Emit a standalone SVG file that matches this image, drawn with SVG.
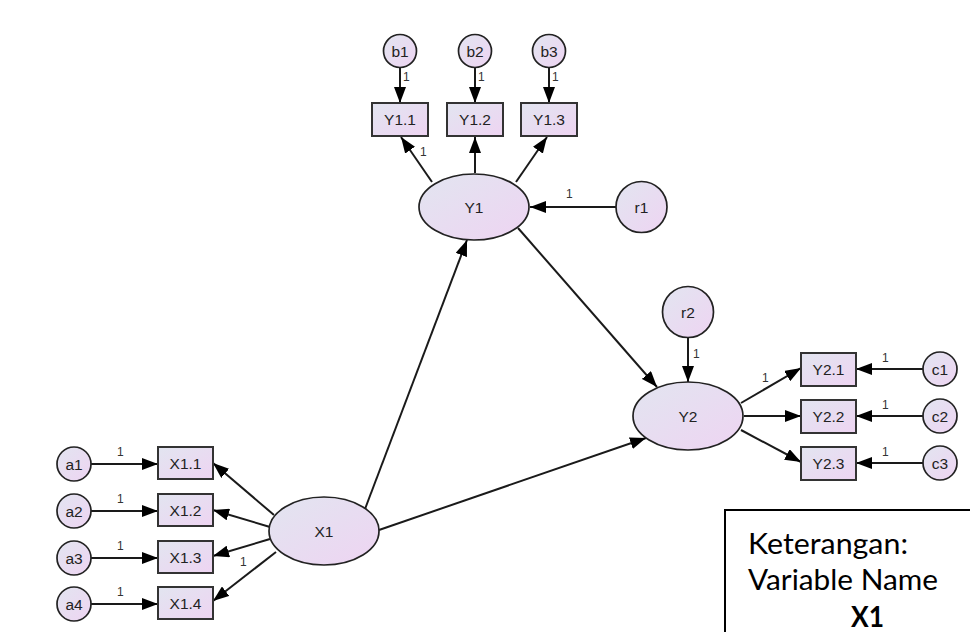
<svg xmlns="http://www.w3.org/2000/svg" width="970" height="632" viewBox="0 0 970 632">
<defs>
<linearGradient id="g" x1="0" y1="0" x2="1" y2="1">
<stop offset="0" stop-color="#e2e5f0"/>
<stop offset="1" stop-color="#eed4f2"/>
</linearGradient>
<marker id="ah" markerUnits="userSpaceOnUse" markerWidth="16" markerHeight="12" refX="16" refY="6" orient="auto">
<path d="M0,0 L16,6 L0,12 z" fill="#000"/>
</marker>
</defs>
<style>
.n{fill:url(#g);stroke:#222;stroke-width:1.7}
.b{fill:url(#g);stroke:#333;stroke-width:2}
.t{font-family:"Liberation Sans",Arial,sans-serif;font-size:15.5px;fill:#222;text-anchor:middle}
.l{font-family:"Liberation Sans",Arial,sans-serif;font-size:12px;fill:#333}
.e line{stroke:#1a1a1a;stroke-width:2;marker-end:url(#ah)}
.k{font-family:"Lato","Liberation Sans",sans-serif;font-size:28px;fill:#000}
</style>
<rect width="970" height="632" fill="#fff"/>

<g id="connectors" class="e">
<line x1="400" y1="68" x2="400" y2="103"/>
<line x1="475" y1="68" x2="475" y2="103"/>
<line x1="549" y1="68" x2="549" y2="103"/>
<line x1="432" y1="182" x2="401" y2="137"/>
<line x1="475" y1="173" x2="475" y2="137"/>
<line x1="516" y1="182" x2="547" y2="137"/>
<line x1="616" y1="207" x2="530" y2="207"/>
<line x1="365" y1="509" x2="467" y2="240"/>
<line x1="518" y1="228" x2="657" y2="387"/>
<line x1="379" y1="530" x2="646" y2="438"/>
<line x1="688" y1="337" x2="688" y2="382"/>
<line x1="741" y1="403" x2="801" y2="368"/>
<line x1="744" y1="416" x2="801" y2="416"/>
<line x1="741" y1="430" x2="801" y2="462"/>
<line x1="923" y1="369" x2="856" y2="369"/>
<line x1="923" y1="416" x2="856" y2="416"/>
<line x1="923" y1="463" x2="856" y2="463"/>
<line x1="274" y1="515" x2="213" y2="463"/>
<line x1="270" y1="527" x2="213" y2="510"/>
<line x1="270" y1="539" x2="213" y2="556"/>
<line x1="276" y1="552" x2="213" y2="601"/>
<line x1="91" y1="464" x2="158" y2="464"/>
<line x1="91" y1="511" x2="158" y2="511"/>
<line x1="91" y1="558" x2="158" y2="558"/>
<line x1="91" y1="604" x2="158" y2="604"/>
</g>

<g id="edge-labels">
<text class="l" x="403" y="81">1</text>
<text class="l" x="478" y="81">1</text>
<text class="l" x="552" y="81">1</text>
<text class="l" x="420" y="156">1</text>
<text class="l" x="566" y="198">1</text>
<text class="l" x="693" y="358">1</text>
<text class="l" x="762" y="382">1</text>
<text class="l" x="882" y="362">1</text>
<text class="l" x="882" y="409">1</text>
<text class="l" x="882" y="456">1</text>
<text class="l" x="117" y="456">1</text>
<text class="l" x="117" y="503">1</text>
<text class="l" x="117" y="550">1</text>
<text class="l" x="117" y="596">1</text>
<text class="l" x="240" y="566">1</text>
</g>

<g id="b1"><circle class="n" cx="400" cy="51" r="16.5"/><text class="t" x="400" y="56.5">b1</text></g>
<g id="b2"><circle class="n" cx="475" cy="51" r="16.5"/><text class="t" x="475" y="56.5">b2</text></g>
<g id="b3"><circle class="n" cx="549" cy="51" r="16.5"/><text class="t" x="549" y="56.5">b3</text></g>

<g id="Y1.1"><rect class="b" x="372" y="103" width="56" height="33"/><text class="t" x="400" y="125">Y1.1</text></g>
<g id="Y1.2"><rect class="b" x="447" y="103" width="56" height="33"/><text class="t" x="475" y="125">Y1.2</text></g>
<g id="Y1.3"><rect class="b" x="521" y="103" width="56" height="33"/><text class="t" x="549" y="125">Y1.3</text></g>

<g id="Y1"><ellipse class="n" cx="474" cy="207" rx="55" ry="33"/><text class="t" x="474" y="212.5">Y1</text></g>
<g id="r1"><circle class="n" cx="641.5" cy="207" r="25.5"/><text class="t" x="641.5" y="212.5">r1</text></g>

<g id="r2"><circle class="n" cx="688" cy="312" r="25.5"/><text class="t" x="688" y="317.5">r2</text></g>
<g id="Y2"><ellipse class="n" cx="688" cy="416" rx="55" ry="34"/><text class="t" x="688" y="421.5">Y2</text></g>

<g id="Y2.1"><rect class="b" x="801" y="353" width="55" height="33"/><text class="t" x="828.5" y="375">Y2.1</text></g>
<g id="Y2.2"><rect class="b" x="801" y="400" width="55" height="33"/><text class="t" x="828.5" y="422">Y2.2</text></g>
<g id="Y2.3"><rect class="b" x="801" y="447" width="55" height="33"/><text class="t" x="828.5" y="469">Y2.3</text></g>

<g id="c1"><circle class="n" cx="940" cy="369" r="17"/><text class="t" x="940" y="374.5">c1</text></g>
<g id="c2"><circle class="n" cx="940" cy="416" r="17"/><text class="t" x="940" y="421.5">c2</text></g>
<g id="c3"><circle class="n" cx="940" cy="463" r="17"/><text class="t" x="940" y="468.5">c3</text></g>

<g id="X1"><ellipse class="n" cx="324" cy="531" rx="55" ry="34"/><text class="t" x="324" y="536.5">X1</text></g>

<g id="X1.1"><rect class="b" x="158" y="447" width="55" height="32"/><text class="t" x="185.5" y="468.5">X1.1</text></g>
<g id="X1.2"><rect class="b" x="158" y="494" width="55" height="32"/><text class="t" x="185.5" y="515.5">X1.2</text></g>
<g id="X1.3"><rect class="b" x="158" y="541" width="55" height="32"/><text class="t" x="185.5" y="562.5">X1.3</text></g>
<g id="X1.4"><rect class="b" x="158" y="587" width="55" height="32"/><text class="t" x="185.5" y="608.5">X1.4</text></g>

<g id="a1"><circle class="n" cx="74" cy="464" r="17"/><text class="t" x="74" y="469.5">a1</text></g>
<g id="a2"><circle class="n" cx="74" cy="511" r="17"/><text class="t" x="74" y="516.5">a2</text></g>
<g id="a3"><circle class="n" cx="74" cy="558" r="17"/><text class="t" x="74" y="563.5">a3</text></g>
<g id="a4"><circle class="n" cx="74" cy="604" r="17"/><text class="t" x="74" y="609.5">a4</text></g>

<g id="legend">
<rect x="725" y="510" width="270" height="140" fill="#fff" stroke="#000" stroke-width="2"/>
<text class="k" x="748" y="554" textLength="160" lengthAdjust="spacingAndGlyphs">Keterangan:</text>
<text class="k" x="748" y="590" textLength="190" lengthAdjust="spacingAndGlyphs">Variable Name</text>
<text class="k" x="851" y="627" font-weight="bold" textLength="33" lengthAdjust="spacingAndGlyphs">X1</text>
</g>
</svg>
